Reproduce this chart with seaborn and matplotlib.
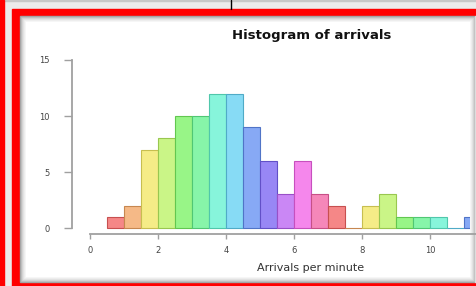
import numpy as np
import pandas as pd
import matplotlib
matplotlib.use('Agg')
import matplotlib.pyplot as plt
import seaborn as sns
import colorsys
from matplotlib.patches import Rectangle

sns.set_style('white')
plt.rcParams['font.family'] = ['DejaVu Sans']

# Histogram counts (bin width 0.5, starting at 0.5)
bin_start, bin_stop, bin_width = 0.5, 11.5, 0.5
counts = [1, 2, 7, 8, 10, 10, 12, 12, 9, 6, 3, 6, 3, 2, 0, 2, 3, 1, 1, 1, 0, 1]
x_ticks = [0, 2, 4, 6, 8, 10, 12]
y_ticks = [0, 5, 10, 15]

centers = bin_start + bin_width * (np.arange(len(counts)) + 0.5)
df = pd.DataFrame({'arrivals': centers, 'n': counts})

W, H = 477, 286
fig = plt.figure(figsize=(W / 100, H / 100), dpi=100)

# background frame (screenshot border) drawn in pixel coordinates
bg = fig.add_axes([0, 0, 1, 1])
bg.set_xlim(0, W)
bg.set_ylim(H, 0)
bg.axis('off')
bg.add_patch(Rectangle((0, 0), W, H, color='#ececec'))
bg.add_patch(Rectangle((0, 0), W, 1.2, color='#c8c8c8'))
bg.add_patch(Rectangle((0, 0), 4, H, color='#ff0000'))
bg.plot([231.5, 231.5], [0, 9], color='black', lw=1)
bg.add_patch(Rectangle((12, 9), W - 12, H - 9, color='#ff0000'))
shades = ['#a0a0a0', '#bababa', '#d0d0d0', '#e0e0e0', '#ececec', '#f6f6f6']
for i, c in enumerate(shades):
    bg.add_patch(Rectangle((20 + i, 16 + i), 455 - 2 * i, 266 - 2 * i, color=c))
bg.add_patch(Rectangle((475, 16), 2, 266, color='#dddddd'))

# plot area
ax = fig.add_axes([26 / W, (H - 277) / H, (470 - 26) / W, (277 - 22) / H])
ax.set_facecolor('white')

sns.histplot(data=df, x='arrivals', weights='n', binwidth=bin_width,
             binrange=(bin_start, bin_stop), ax=ax, stat='count', legend=False)
for i, p in enumerate(ax.patches):
    h = (i % 13) / 13
    p.set_facecolor(colorsys.hsv_to_rgb(h, 0.45, 0.96))
    p.set_edgecolor(colorsys.hsv_to_rgb(h, 0.6, 0.78))
    p.set_linewidth(0.8)

ax.set_xticks(x_ticks)
ax.set_xticklabels([str(v) for v in x_ticks])
ax.set_yticks(y_ticks)
ax.set_yticklabels([str(v) for v in y_ticks], rotation=90, va='center')

px0, sx = 90, 34.0
py0, sy = 228, 11.2
ax.set_xlim((26 - px0) / sx, (470 - px0) / sx)
ax.set_ylim((py0 - 277) / sy, (py0 - 22) / sy)

for s in ['top', 'right']:
    ax.spines[s].set_visible(False)
ax.spines['left'].set_position(('data', (71.5 - px0) / sx))
ax.spines['left'].set_bounds(0, 15)
ax.spines['bottom'].set_position(('data', (py0 - 233.7) / sy))
ax.spines['bottom'].set_bounds(0, 12)
for s in ['left', 'bottom']:
    ax.spines[s].set_color('#a0a0a0')
    ax.spines[s].set_linewidth(1.3)

ax.tick_params(axis='both', bottom=True, left=True, direction='out', width=1,
               color='#a0a0a0', labelsize=6, labelcolor='#444444')
ax.tick_params(axis='y', length=6, pad=10)
ax.tick_params(axis='x', length=3.5, pad=5)
ax.set_xlabel('')
ax.set_ylabel('')

fig.text(311.5 / W, 1 - 35 / H, 'Histogram of arrivals', ha='center', va='center',
         fontsize=9.5, fontweight='bold', color='#111111')
fig.text(311 / W, 1 - 268 / H, 'Arrivals per minute', ha='center', va='center',
         fontsize=8, color='#333333')

fig.savefig('out.png', dpi=100)
